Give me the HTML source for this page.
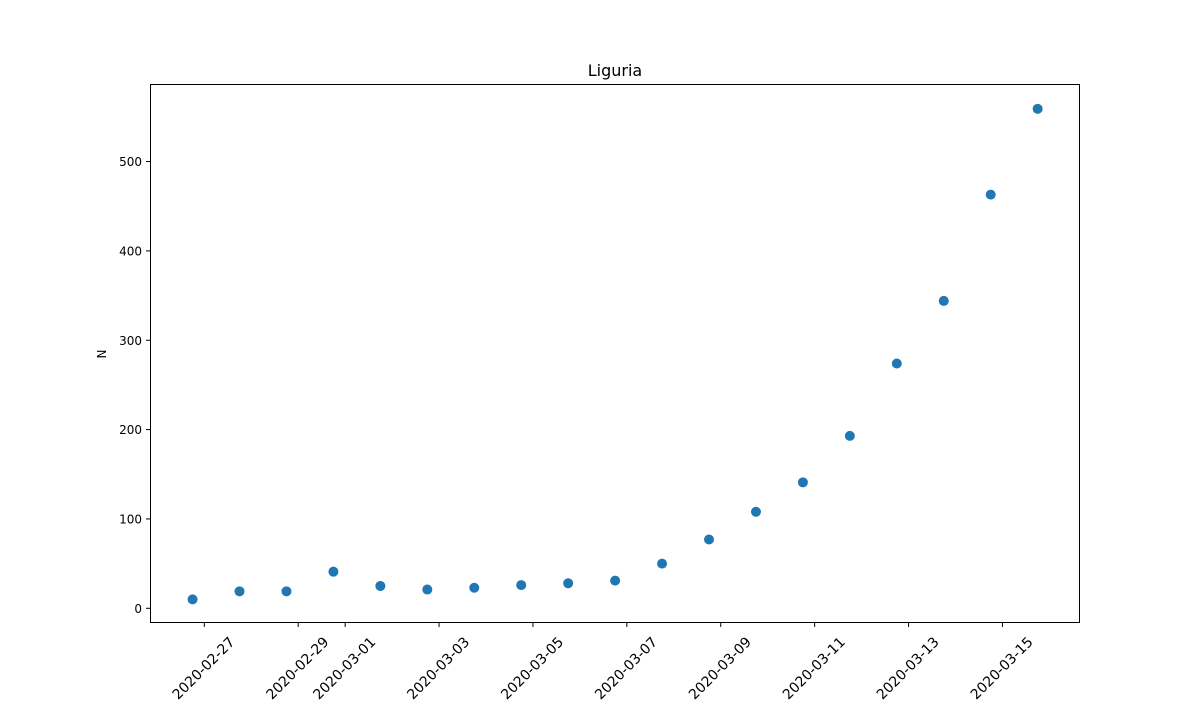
<!DOCTYPE html>
<html><head><meta charset="utf-8"><style>
body{margin:0;background:#fff;}
svg{font-family:"DejaVu Sans","Liberation Sans",sans-serif;}
</style></head><body>
<svg id="chart" width="1200" height="700">
<rect x="0" y="0" width="1200" height="700" fill="#fff"/>
<text x="615" y="76" font-size="16" text-anchor="middle">Liguria</text>
<text transform="translate(106,354) rotate(-90)" font-size="12" text-anchor="middle">N</text>
<g id="plot"></g>
<rect x="150.5" y="84.5" width="929" height="538" fill="none" stroke="#000" stroke-width="1"/>
</svg>
<script>
const dayOffsets=[-0.25,0.75,1.75,2.75,3.75,4.75,5.75,6.75,7.75,8.75,9.75,10.75,11.75,12.75,13.75,14.75,15.75,16.75,17.75];
const values=[10,19,19,41,25,21,23,26,28,31,50,77,108,141,193,274,344,463,559];
const yTicks=[0,100,200,300,400,500];
const xTickDays=[0,2,3,5,7,9,11,13,15,17];
const xTickLabels=["2020-02-27","2020-02-29","2020-03-01","2020-03-03","2020-03-05","2020-03-07","2020-03-09","2020-03-11","2020-03-13","2020-03-15"];
const NS="http://www.w3.org/2000/svg";
const g=document.getElementById('plot');
function xs(d){return 204.3+46.95*d;}
function ys(v){return 608.3-v*0.8935;}
yTicks.forEach(t=>{
  const l=document.createElementNS(NS,'line');
  
  
  l.setAttribute('x1',146);l.setAttribute('x2',150.5);
  l.setAttribute('y1',ys(t));l.setAttribute('y2',ys(t));l.setAttribute('stroke','#000');
  g.appendChild(l);
  const tx=document.createElementNS(NS,'text');
  
  
  tx.setAttribute('x',142);tx.setAttribute('y',ys(t)+4.5);
  tx.setAttribute('font-size','12');tx.setAttribute('text-anchor','end');
  tx.textContent=t;g.appendChild(tx);
});
xTickDays.forEach((d,i)=>{
  const x=xs(d);
  const l=document.createElementNS(NS,'line');
  
  
  l.setAttribute('x1',x);l.setAttribute('x2',x);
  l.setAttribute('y1',622.5);l.setAttribute('y2',627);l.setAttribute('stroke','#000');
  g.appendChild(l);
  const tx=document.createElementNS(NS,'text');
  
  
  tx.setAttribute('font-size','14');tx.setAttribute('text-anchor','middle');
  tx.setAttribute('dy','5');
  tx.setAttribute('transform','translate('+(x-1)+',668) rotate(-45)');
  tx.textContent=xTickLabels[i];g.appendChild(tx);
});
values.forEach((v,i)=>{
  const c=document.createElementNS(NS,'circle');
  
  
  c.setAttribute('cx',xs(dayOffsets[i]));c.setAttribute('cy',ys(v));
  c.setAttribute('r',5);c.setAttribute('fill','#1f77b4');
  g.appendChild(c);
});
</script>
</body></html>
